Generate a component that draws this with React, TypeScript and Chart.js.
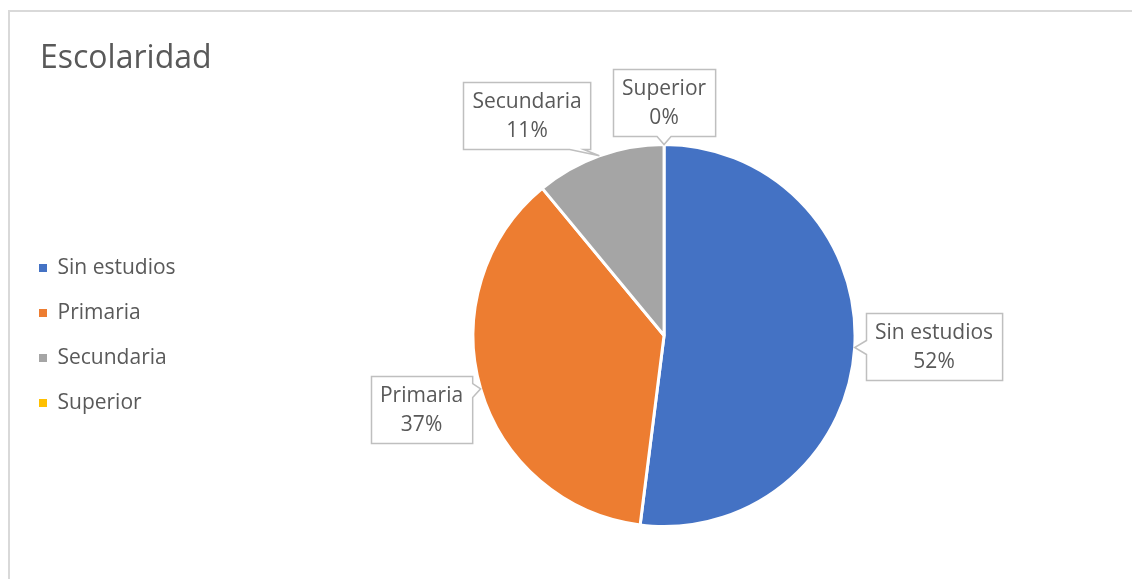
import React, { useEffect, useRef } from "react";
import { Chart, registerables } from "chart.js";

Chart.register(...registerables);

const titleText = "Escolaridad";
const categories = ["Sin estudios", "Primaria", "Secundaria", "Superior"];
const values = [52, 37, 11, 0];
const colors = ["#4472C4", "#ED7D31", "#A5A5A5", "#FFC000"];

// label box centre offsets from pie centre (layout only)
const labelOffsets: number[][] = [
  [270, 11],
  [-242.5, 74],
  [-137, -220.5],
  [0, -233.5],
];

const FONT = '"Open Sans", "DejaVu Sans", sans-serif';
const TEXT = "#595959";

function clamp(v: number, a: number, b: number) {
  return Math.max(a, Math.min(b, v));
}

function calloutPath(ctx: CanvasRenderingContext2D, l: number, t: number, r: number, b: number, ax: number, ay: number) {
  const cx = (l + r) / 2;
  const cy = (t + b) / 2;
  const dx = (ax - cx) / ((r - l) / 2);
  const dy = (ay - cy) / ((b - t) / 2);
  const hw = 7;
  const vert = Math.abs(dy) >= Math.abs(dx);
  ctx.beginPath();
  ctx.moveTo(l, t);
  if (vert && dy < -1) {
    const m = clamp(ax, l + 2 * hw, r - 2 * hw);
    ctx.lineTo(m - hw, t);
    ctx.lineTo(ax, ay);
    ctx.lineTo(m + hw, t);
  }
  ctx.lineTo(r, t);
  if (!vert && dx > 1) {
    const m = clamp(ay, t + 2 * hw, b - 2 * hw);
    ctx.lineTo(r, m - hw);
    ctx.lineTo(ax, ay);
    ctx.lineTo(r, m + hw);
  }
  ctx.lineTo(r, b);
  if (vert && dy > 1) {
    const m = clamp(ax, l + 2 * hw, r - 2 * hw);
    ctx.lineTo(m + hw, b);
    ctx.lineTo(ax, ay);
    ctx.lineTo(m - hw, b);
  }
  ctx.lineTo(l, b);
  if (!vert && dx < -1) {
    const m = clamp(ay, t + 2 * hw, b - 2 * hw);
    ctx.lineTo(l, m + hw);
    ctx.lineTo(ax, ay);
    ctx.lineTo(l, m - hw);
  }
  ctx.closePath();
}

export default function App() {
  const ref = useRef<HTMLCanvasElement>(null);

  useEffect(() => {
    const canvas = ref.current!;
    const baseGen = (Chart as any).overrides.pie.plugins.legend.labels.generateLabels;

    const titlePlugin = {
      id: "excelTitle",
      afterDraw(chart: any) {
        const ctx = chart.ctx as CanvasRenderingContext2D;
        ctx.save();
        ctx.font = `32px ${FONT}`;
        ctx.fillStyle = TEXT;
        ctx.textAlign = "left";
        ctx.textBaseline = "alphabetic";
        ctx.fillText(titleText, 40, 68);
        ctx.restore();
      },
    };

    const calloutPlugin = {
      id: "callouts",
      afterDatasetsDraw(chart: any) {
        const ctx = chart.ctx as CanvasRenderingContext2D;
        const meta = chart.getDatasetMeta(0);
        const total = values.reduce((a, b) => a + b, 0);
        ctx.save();
        ctx.font = `21px ${FONT}`;
        meta.data.forEach((arc: any, i: number) => {
          const p = arc.getProps(["x", "y", "startAngle", "endAngle", "outerRadius"], true);
          const mid = (p.startAngle + p.endAngle) / 2;
          const ax = p.x + Math.cos(mid) * p.outerRadius;
          const ay = p.y + Math.sin(mid) * p.outerRadius;
          const lines = [categories[i], Math.round((values[i] / total) * 100) + "%"];
          const w = Math.max(...lines.map((s) => ctx.measureText(s).width)) + 18;
          const h = 67;
          const cx = p.x + labelOffsets[i][0];
          const cy = p.y + labelOffsets[i][1];
          const l = Math.round(cx - w / 2) + 0.5;
          const t = Math.round(cy - h / 2) + 0.5;
          calloutPath(ctx, l, t, l + w, t + h, ax, ay);
          ctx.fillStyle = "#ffffff";
          ctx.fill();
          ctx.lineWidth = 1.5;
          ctx.strokeStyle = "#bfbfbf";
          ctx.stroke();
          ctx.fillStyle = TEXT;
          ctx.textAlign = "center";
          ctx.textBaseline = "middle";
          ctx.fillText(lines[0], cx, t + 20);
          ctx.fillText(lines[1], cx, t + 49);
        });
        ctx.restore();
      },
    };

    const chart = new Chart(canvas, {
      type: "pie",
      data: {
        labels: categories,
        datasets: [
          {
            data: values,
            backgroundColor: colors,
            borderColor: "#ffffff",
            borderWidth: 3,
          },
        ],
      },
      options: {
        responsive: false,
        animation: false,
        radius: 191,
        layout: { padding: { left: 15, right: 17.5, top: 92, bottom: 0 } },
        plugins: {
          title: { display: false },
          tooltip: { enabled: false },
          legend: {
            display: true,
            position: "left",
            align: "center",
            labels: {
              font: { family: FONT, size: 21 },
              color: TEXT,
              boxWidth: 8,
              boxHeight: 8,
              padding: 24,
              generateLabels: (c: any) => baseGen(c).map((it: any) => ({ ...it, lineWidth: 0 })),
            },
          },
        },
      } as any,
      plugins: [titlePlugin, calloutPlugin],
    });
    return () => chart.destroy();
  }, []);

  return (
    <div
      style={{
        position: "fixed",
        left: 0,
        top: 0,
        width: 1132,
        height: 579,
        overflow: "hidden",
        background: "#ffffff",
      }}
    >
      <div
        style={{
          position: "absolute",
          left: 8,
          top: 10,
          width: 1400,
          height: 900,
          borderTop: "2px solid #d9d9d9",
          borderLeft: "2px solid #d9d9d9",
          boxSizing: "border-box",
        }}
      />
      <canvas
        ref={ref}
        width={1160}
        height={579}
        style={{ position: "absolute", left: 0, top: 0, width: 1160, height: 579, display: "block" }}
      />
    </div>
  );
}
